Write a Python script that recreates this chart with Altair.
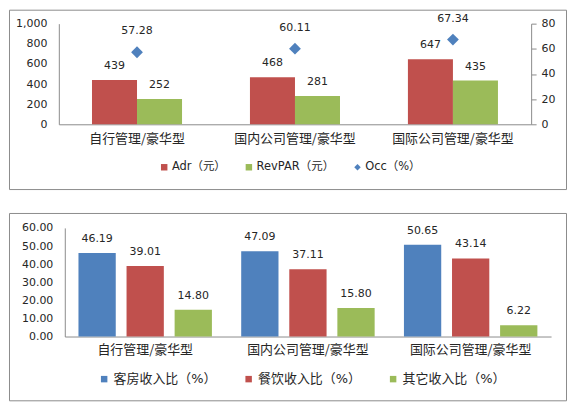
import altair as alt
import pandas as pd

categories = ["自行管理/豪华型", "国内公司管理/豪华型", "国际公司管理/豪华型"]
adr = [439, 468, 647]
revpar = [252, 281, 435]
occ = [57.28, 60.11, 67.34]
room = [46.19, 47.09, 50.65]
fnb = [39.01, 37.11, 43.14]
other = [14.80, 15.80, 6.22]

top_series = ["Adr（元）", "RevPAR（元）"]
occ_name = "Occ（%）"
bottom_series = ["客房收入比（%）", "餐饮收入比（%）", "其它收入比（%）"]

RED = "#C0504D"
GREEN = "#9BBB59"
BLUE = "#4F81BD"
FONT_NUM = "DejaVu Sans"
FONT_CJK = "Noto Sans CJK SC"
FONT_MIX = "DejaVu Sans, Noto Sans CJK SC"
TEXT = "#262626"
LINE = "#8c8c8c"

top_df = pd.DataFrame({
    "cat": categories * 2,
    "series": [top_series[0]] * 3 + [top_series[1]] * 3,
    "value": adr + revpar,
})
occ_df = pd.DataFrame({"cat": categories, "series": [occ_name] * 3, "value": occ})
bot_df = pd.DataFrame({
    "cat": categories * 3,
    "series": [bottom_series[0]] * 3 + [bottom_series[1]] * 3 + [bottom_series[2]] * 3,
    "value": room + fnb + other,
})

# ---------------- top chart ----------------
TW, TH = 559, 180
x_top = alt.X(
    "cat:N", sort=categories,
    scale=alt.Scale(range=[50, 524], paddingInner=0.43, paddingOuter=0.21),
    axis=alt.Axis(title=None, orient="bottom", offset=-65, ticks=False, labelAngle=0,
                  labelFont=FONT_CJK, labelFontSize=13, labelColor=TEXT, labelPadding=8,
                  domainColor=LINE, labelLimit=300),
)
xoff_top = alt.XOffset("series:N", sort=top_series,
                       scale=alt.Scale(domain=top_series, paddingInner=0, paddingOuter=0))
y_left = alt.Y(
    "value:Q",
    scale=alt.Scale(domain=[0, 1000], range=[115, 14], nice=False),
    axis=alt.Axis(title=None, orient="left", offset=-50, ticks=False, grid=False,
                  values=[0, 200, 400, 600, 800, 1000], format=",d",
                  labelFont=FONT_NUM, labelFontSize=11, labelColor=TEXT, labelPadding=12,
                  domainColor=LINE),
)
y_right = alt.Y(
    "value:Q",
    scale=alt.Scale(domain=[0, 80], range=[115, 14], nice=False),
    axis=alt.Axis(title=None, orient="right", offset=-35, ticks=True, tickSize=5,
                  tickColor=LINE, grid=False, values=[0, 20, 40, 60, 80], format="d",
                  labelFont=FONT_NUM, labelFontSize=11, labelColor=TEXT, labelPadding=5,
                  domainColor=LINE),
)
top_legend = alt.Legend(
    title=None, orient="none", legendX=150, legendY=152, direction="horizontal",
    columnPadding=17, symbolSize=42, labelFont=FONT_MIX, labelFontSize=11.5,
    labelColor=TEXT, labelOffset=2, labelLimit=300, symbolStrokeWidth=0,
)
color_top = alt.Color("series:N",
                      scale=alt.Scale(domain=top_series + [occ_name], range=[RED, GREEN, BLUE]),
                      legend=top_legend)
shape_top = alt.Shape("series:N",
                      scale=alt.Scale(domain=top_series + [occ_name],
                                      range=["square", "square", "diamond"]),
                      legend=top_legend)

bars_top = alt.Chart(top_df).mark_bar().encode(x=x_top, xOffset=xoff_top, y=y_left, color=color_top)
bars_top_text = alt.Chart(top_df).mark_text(
    dy=-14, baseline="middle", font=FONT_NUM, fontSize=11, color=TEXT
).encode(x=x_top, xOffset=xoff_top, y=y_left, text=alt.Text("value:Q", format="d"))

pts = alt.Chart(occ_df).mark_point(filled=True, size=140, opacity=1).encode(
    x=x_top, y=y_right, color=color_top, shape=shape_top)
pts_text = alt.Chart(occ_df).mark_text(
    dy=-21, baseline="middle", font=FONT_NUM, fontSize=11, color=TEXT
).encode(x=x_top, y=y_right, text=alt.Text("value:Q", format=".2f"))

top = alt.layer(
    alt.layer(bars_top, bars_top_text),
    alt.layer(pts, pts_text),
).resolve_scale(y="independent").properties(width=TW, height=TH)

# ---------------- bottom chart ----------------
BW, BH = 559, 188
x_bot = alt.X(
    "cat:N", sort=categories,
    scale=alt.Scale(range=[56, 544], paddingInner=0.18, paddingOuter=0.084),
    axis=alt.Axis(title=None, orient="bottom", offset=-64, ticks=False, labelAngle=0,
                  labelFont=FONT_CJK, labelFontSize=13, labelColor=TEXT, labelPadding=7,
                  domainColor=LINE, labelLimit=300),
)
xoff_bot = alt.XOffset("series:N", sort=bottom_series,
                       scale=alt.Scale(domain=bottom_series, paddingInner=0.2245, paddingOuter=0))
y_bot = alt.Y(
    "value:Q",
    scale=alt.Scale(domain=[0, 60], range=[124, 15], nice=False),
    axis=alt.Axis(title=None, orient="left", offset=-56, ticks=False, grid=False,
                  values=[0, 10, 20, 30, 40, 50, 60], format=".2f",
                  labelFont=FONT_NUM, labelFontSize=11, labelColor=TEXT, labelPadding=12,
                  domainColor=LINE),
)
color_bot = alt.Color(
    "series:N",
    scale=alt.Scale(domain=bottom_series, range=[BLUE, RED, GREEN]),
    legend=alt.Legend(title=None, orient="none", legendX=89, legendY=160, direction="horizontal",
                      columnPadding=25, symbolSize=42, symbolType="square",
                      labelFont=FONT_MIX, labelFontSize=13, labelColor=TEXT, labelOffset=3,
                      labelLimit=300, symbolStrokeWidth=0),
)
bars_bot = alt.Chart(bot_df).mark_bar().encode(x=x_bot, xOffset=xoff_bot, y=y_bot, color=color_bot)
bars_bot_text = alt.Chart(bot_df).mark_text(
    dy=-14, baseline="middle", font=FONT_NUM, fontSize=11, color=TEXT
).encode(x=x_bot, xOffset=xoff_bot, y=y_bot, text=alt.Text("value:Q", format=".2f"))

bottom = alt.layer(bars_bot, bars_bot_text).properties(width=BW, height=BH)

chart = alt.vconcat(top, bottom, spacing=22).resolve_scale(
    color="independent", shape="independent", x="independent", xOffset="independent", y="independent"
).resolve_legend(color="independent", shape="independent").configure(
    padding=0, background="white"
).configure_view(stroke=LINE, strokeWidth=1)

chart.save("out.html", embed_options={"renderer": "svg", "actions": False})
